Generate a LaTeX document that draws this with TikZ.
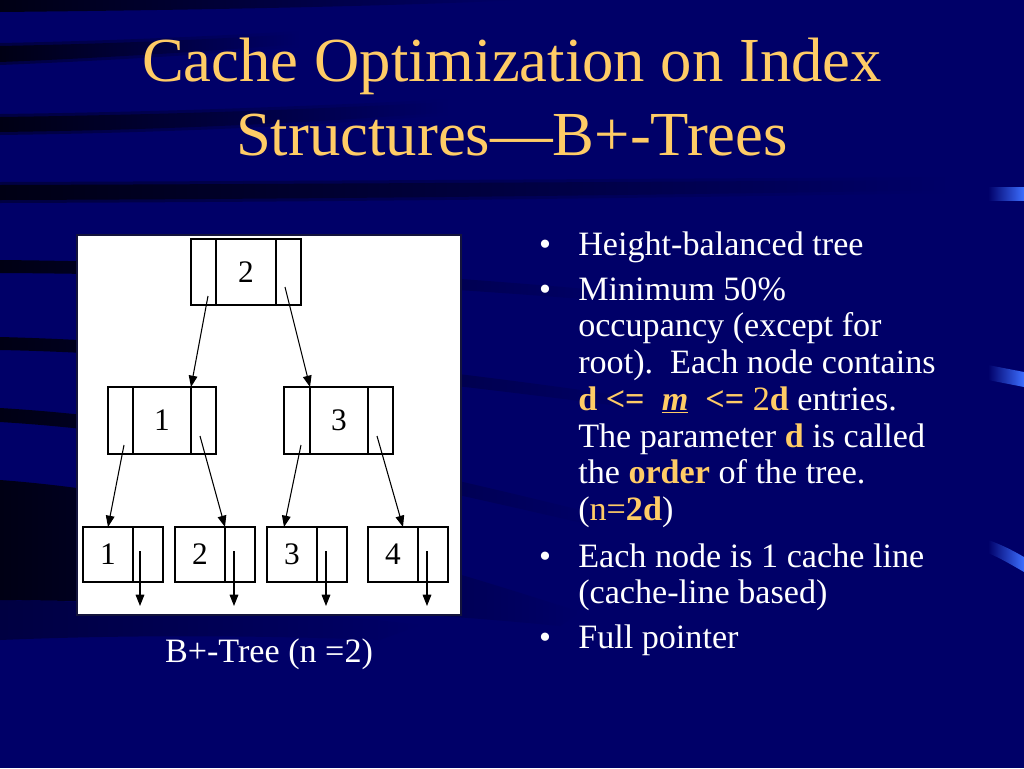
\documentclass[tikz,border=0pt]{standalone}
\usepackage{fontspec}
\setmainfont{Liberation Serif}
\usetikzlibrary{arrows.meta,calc}
\definecolor{bg}{RGB}{0,0,104}
\definecolor{bgdark}{RGB}{0,0,20}
\definecolor{gold}{RGB}{255,204,102}
\definecolor{tickblue}{RGB}{60,110,255}
\begin{document}
\begin{tikzpicture}[x=0.75pt,y=-0.75pt,
  titletext/.style={text=gold,font=\fontsize{47}{56}\selectfont,inner sep=0,anchor=base},
  bodytext/.style={text=white,font=\fontsize{25.6}{30}\selectfont,inner sep=0,anchor=base west},
  bullettext/.style={text=white,font=\fontsize{25.6}{30}\selectfont,inner sep=0,anchor=base},
  cell/.style={draw=black,line width=1pt,inner sep=0,outer sep=0,font=\fontsize{23.5}{28}\selectfont},
  arr/.style={draw=black,line width=0.8pt,-{Triangle[length=8.5pt,width=6.5pt]}},
  band/.style={left color=bgdark,right color=bg,draw=none},
  softband/.style={left color=bgdark,right color=bg,draw=none,opacity=0.45},
  tick/.style={left color=bg,right color=tickblue,draw=none}]
\useasboundingbox (0,0) rectangle (1024,768);
% background
\fill[bg] (0,0) rectangle (1024,768);
\shade[band] (0,0) -- (520,0) .. controls (400,6) and (200,10) .. (0,12) -- cycle;
\shade[softband] (0,43) .. controls (100,41) and (200,37) .. (300,31) -- (300,47) .. controls (200,55) and (100,61) .. (0,65) -- cycle;
\shade[band] (0,46) .. controls (100,44) and (200,40) .. (300,34) -- (300,44) .. controls (200,52) and (100,58) .. (0,62) -- cycle;
\shade[softband] (0,114) .. controls (150,112) and (300,107) .. (450,99) -- (450,115) .. controls (300,127) and (150,133) .. (0,135) -- cycle;
\shade[band] (0,117) .. controls (150,115) and (300,110) .. (450,102) -- (450,112) .. controls (300,124) and (150,130) .. (0,132) -- cycle;
\shade[softband] (0,182) .. controls (300,181) and (600,179) .. (950,177) -- (950,193) .. controls (600,199) and (300,202) .. (0,203) -- cycle;
\shade[band] (0,185) .. controls (300,184) and (600,182) .. (950,180) -- (950,190) .. controls (600,196) and (300,199) .. (0,200) -- cycle;
\shade[band] (0,260) .. controls (200,262) and (400,272) .. (620,292) -- (620,302) .. controls (400,284) and (200,274) .. (0,273) -- cycle;
\shade[band] (0,337) .. controls (200,342) and (450,370) .. (650,400) -- (650,410) .. controls (450,384) and (200,354) .. (0,350) -- cycle;
\shade[band] (0,408) .. controls (200,420) and (420,470) .. (600,515) -- (600,527) .. controls (420,486) and (200,434) .. (0,422) -- cycle;
\shade[band] (0,480) .. controls (200,495) and (420,560) .. (580,612) -- (560,626) .. controls (400,610) and (200,602) .. (0,600) -- cycle;
\shade[softband] (0,600) .. controls (150,602) and (300,610) .. (420,625) -- (380,640) .. controls (250,635) and (120,635) .. (0,640) -- cycle;
% right ticks
\shade[tick] (988,187) -- (1024,187) -- (1024,200) -- (988,200) -- cycle;
\shade[tick] (988,365) -- (1024,372) -- (1024,387) -- (988,380) -- cycle;
\shade[tick] (988,540) .. controls (1000,544) and (1012,550) .. (1024,557) -- (1024,572) .. controls (1012,565) and (1000,558) .. (988,553) -- cycle;
% title
\node[titletext] (t1) at (512,81) {Cache Optimization on Index};
\node[titletext] (t2) at (512,155) {Structures—B+-Trees};
% picture frame
\node[draw={rgb,255:red,20;green,20;blue,60},line width=0.8pt,fill=white,inner sep=0,outer sep=0,
  minimum width=288pt,minimum height=285pt] (frame) at (269,425) {};
% root
\node[cell,minimum width=18.75pt,minimum height=49.5pt] (rL) at (203.5,272) {};
\node[cell,minimum width=45pt,minimum height=49.5pt] (rK) at (246,272) {2};
\node[cell,minimum width=18.75pt,minimum height=49.5pt] (rR) at (288.5,272) {};
% mid left
\node[cell,minimum width=18.75pt,minimum height=50.25pt] (aL) at (120.5,420.5) {};
\node[cell,minimum width=43.5pt,minimum height=50.25pt] (aK) at (162,420.5) {1};
\node[cell,minimum width=18.75pt,minimum height=50.25pt] (aR) at (203.5,420.5) {};
% mid right
\node[cell,minimum width=19.5pt,minimum height=50.25pt] (bL) at (297,420.5) {};
\node[cell,minimum width=43.5pt,minimum height=50.25pt] (bK) at (339,420.5) {3};
\node[cell,minimum width=18.75pt,minimum height=50.25pt] (bR) at (380.5,420.5) {};
% leaves
\node[cell,minimum width=37.5pt,minimum height=41.25pt] (l1K) at (108,554.5) {1};
\node[cell,minimum width=22.5pt,minimum height=41.25pt] (l1P) at (148,554.5) {};
\node[cell,minimum width=37.5pt,minimum height=41.25pt] (l2K) at (200,554.5) {2};
\node[cell,minimum width=22.5pt,minimum height=41.25pt] (l2P) at (240,554.5) {};
\node[cell,minimum width=37.5pt,minimum height=41.25pt] (l3K) at (292,554.5) {3};
\node[cell,minimum width=22.5pt,minimum height=41.25pt] (l3P) at (332,554.5) {};
\node[cell,minimum width=37.5pt,minimum height=41.25pt] (l4K) at (393,554.5) {4};
\node[cell,minimum width=22.5pt,minimum height=41.25pt] (l4P) at (433,554.5) {};
% arrow start points and free ends
\coordinate (sRL) at (208,296);
\coordinate (sRR) at (285,287);
\coordinate (sAL) at (124,445);
\coordinate (sAR) at (200,436);
\coordinate (sBL) at (301,445);
\coordinate (sBR) at (377,436);
\coordinate (eBL) at (284,527);
\coordinate (eBR) at (403,527);
\coordinate (s1) at (140,551); \coordinate (e1) at (140,606);
\coordinate (s2) at (234,551); \coordinate (e2) at (234,606);
\coordinate (s3) at (326,551); \coordinate (e3) at (326,606);
\coordinate (s4) at (427,551); \coordinate (e4) at (427,606);
\draw[arr] (sRL) -- (aK.north east);
\draw[arr] (sRR) -- (bK.north west);
\draw[arr] (sAL) -- (l1K.north);
\draw[arr] (sAR) -- (l2P.north west);
\draw[arr] (sBL) -- (eBL);
\draw[arr] (sBR) -- (eBR);
\draw[arr] (s1) -- (e1);
\draw[arr] (s2) -- (e2);
\draw[arr] (s3) -- (e3);
\draw[arr] (s4) -- (e4);
% caption
\node[bodytext,anchor=base] (cap) at (269,662) {B+-Tree (n =2)};
% bullets
\node[bullettext] (b1) at (545,255) {•};
\node[bullettext] (b2) at (545,300) {•};
\node[bullettext] (b3) at (545,567) {•};
\node[bullettext] (b4) at (545,648) {•};
\node[bodytext] (x1) at (578,255) {Height-balanced tree};
\node[bodytext] (x2) at (578,300) {Minimum 50\%};
\node[bodytext] (x3) at (578,336) {occupancy (except for};
\node[bodytext] (x4) at (578,373) {root).\ \ Each node contains};
\node[bodytext] (x5) at (578,410) {\textcolor{gold}{\textbf{d <=}\ \ \underline{\textbf{\textit{m}}}\ \ \textbf{<=} 2\textbf{d}} entries.};
\node[bodytext] (x6) at (578,447) {The parameter \textcolor{gold}{\textbf{d}} is called};
\node[bodytext] (x7) at (578,483) {the \textcolor{gold}{\textbf{order}} of the tree.};
\node[bodytext] (x8) at (578,520) {(\textcolor{gold}{n=\textbf{2d}})};
\node[bodytext] (x9) at (578,567) {Each node is 1 cache line};
\node[bodytext] (x10) at (578,603) {(cache-line based)};
\node[bodytext] (x11) at (578,648) {Full pointer};
\end{tikzpicture}
\end{document}
